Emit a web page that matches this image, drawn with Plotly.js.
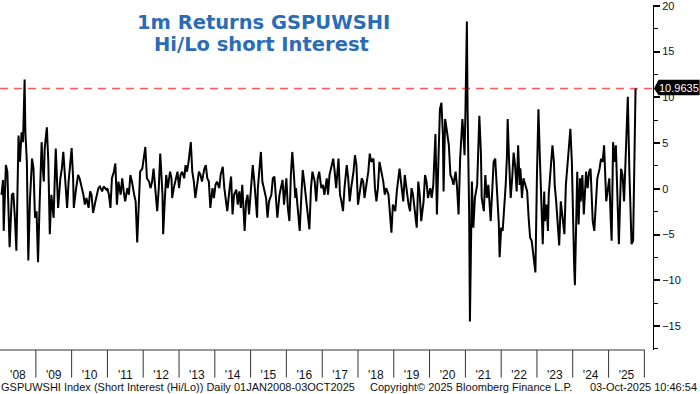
<!DOCTYPE html>
<html>
<head>
<meta charset="utf-8">
<script src="https://cdn.plot.ly/plotly-3.0.1.min.js"></script>
<style>html,body{margin:0;padding:0;background:#fff;}#chart{width:700px;height:394px;}</style>
</head>
<body>
<div id="chart"></div>
<script>
const dates = [
"2008-01-16","2008-02-01","2008-02-08","2008-03-01","2008-03-16","2008-04-08","2008-05-01","2008-05-16","2008-06-01","2008-06-16","2008-07-08","2008-07-23","2008-08-08","2008-08-23","2008-09-08","2008-09-16","2008-10-01","2008-10-16","2008-11-01","2008-11-23","2008-12-08","2008-12-23",
"2009-01-08","2009-01-23","2009-02-08","2009-02-23","2009-03-01","2009-03-08","2009-03-23","2009-04-01","2009-04-23","2009-05-08","2009-05-23","2009-06-08","2009-07-01","2009-07-16","2009-07-23","2009-08-08","2009-08-16","2009-09-08","2009-09-23","2009-10-08","2009-10-23","2009-11-16","2009-12-01","2009-12-16",
"2010-01-01","2010-01-16","2010-01-23","2010-02-16","2010-03-08","2010-03-23","2010-04-16","2010-05-01","2010-05-16","2010-06-01","2010-06-23","2010-07-08","2010-07-23","2010-08-08","2010-09-01","2010-09-16","2010-10-01","2010-10-16","2010-11-08","2010-11-23","2010-12-08","2010-12-23",
"2011-01-01","2011-01-16","2011-02-01","2011-02-16","2011-03-08","2011-03-23","2011-04-08","2011-04-23","2011-05-16","2011-06-01","2011-06-16","2011-07-01","2011-07-23","2011-08-08","2011-08-23","2011-09-08","2011-10-01","2011-10-16","2011-11-01","2011-11-16","2011-12-01","2011-12-23",
"2012-01-08","2012-01-23","2012-02-08","2012-03-01","2012-03-16","2012-04-01","2012-04-16","2012-05-08","2012-05-23","2012-06-08","2012-06-23","2012-07-16","2012-07-23","2012-08-08","2012-08-23","2012-09-08","2012-10-01","2012-10-16","2012-10-23","2012-11-08","2012-11-23","2012-12-16",
"2013-01-01","2013-01-16","2013-02-01","2013-02-23","2013-03-08","2013-03-23","2013-04-08","2013-05-01","2013-05-16","2013-06-01","2013-06-16","2013-07-08","2013-07-23","2013-08-08","2013-08-23","2013-09-16","2013-10-01","2013-10-16","2013-11-01","2013-11-16","2013-12-08","2013-12-23",
"2014-01-08","2014-01-23","2014-02-16","2014-03-01","2014-03-23","2014-04-08","2014-04-23","2014-05-08","2014-06-01","2014-06-16","2014-07-01","2014-07-16","2014-08-08","2014-08-23","2014-09-08","2014-09-23","2014-10-08","2014-11-01","2014-11-16","2014-12-01","2014-12-16",
"2015-01-08","2015-01-23","2015-02-08","2015-02-23","2015-03-08","2015-03-16","2015-04-01","2015-04-16","2015-05-01","2015-05-23","2015-06-08","2015-06-23","2015-07-08","2015-08-01","2015-08-16","2015-09-01","2015-09-16","2015-10-01","2015-10-23","2015-11-08","2015-11-23","2015-12-08",
"2016-01-01","2016-01-16","2016-02-01","2016-02-16","2016-03-01","2016-03-16","2016-04-01","2016-04-08","2016-04-23","2016-05-16","2016-06-01","2016-06-16","2016-07-01","2016-07-23","2016-08-08","2016-08-23","2016-09-08","2016-09-23","2016-10-16","2016-11-01","2016-11-16","2016-12-01","2016-12-23",
"2017-01-08","2017-01-23","2017-02-16","2017-03-01","2017-03-16","2017-04-08","2017-04-23","2017-05-08","2017-05-23","2017-06-16","2017-07-01","2017-07-16","2017-08-01","2017-08-16","2017-09-08","2017-09-23","2017-10-08","2017-10-23","2017-11-16","2017-12-01","2017-12-16",
"2018-01-01","2018-01-23","2018-02-08","2018-02-23","2018-03-08","2018-04-01","2018-04-16","2018-05-01","2018-05-16","2018-06-08","2018-06-23","2018-07-08","2018-07-23","2018-08-08","2018-09-01","2018-09-16","2018-10-01","2018-10-16","2018-11-08","2018-11-23","2018-12-08","2018-12-23",
"2019-01-16","2019-02-01","2019-02-16","2019-03-01","2019-03-23","2019-04-08","2019-04-23","2019-05-08","2019-06-01","2019-06-16","2019-07-01","2019-07-16","2019-08-01","2019-08-23","2019-09-08","2019-09-23","2019-10-08","2019-11-01","2019-11-16","2019-12-01","2019-12-16",
"2020-01-08","2020-01-23","2020-02-08","2020-03-01","2020-03-16","2020-04-01","2020-04-16","2020-05-01","2020-05-16","2020-05-23","2020-06-08","2020-06-23","2020-07-16","2020-08-01","2020-08-16","2020-09-01","2020-09-23","2020-10-08","2020-10-23","2020-11-08","2020-12-01","2020-12-08","2020-12-23",
"2021-01-01","2021-01-16","2021-01-23","2021-02-08","2021-02-16","2021-02-23","2021-03-08","2021-03-23","2021-04-08","2021-05-01","2021-05-16","2021-05-23","2021-06-08","2021-06-16","2021-07-08","2021-07-23","2021-08-08","2021-08-23","2021-09-16","2021-10-01","2021-10-16","2021-11-01","2021-11-23","2021-12-08","2021-12-16",
"2022-01-01","2022-01-16","2022-02-01","2022-02-16","2022-03-01","2022-03-08","2022-03-23","2022-04-08","2022-04-23","2022-05-08","2022-05-23","2022-06-08","2022-06-23","2022-07-08","2022-07-16","2022-08-01","2022-08-16","2022-09-08","2022-09-23","2022-10-08","2022-10-23","2022-11-08","2022-12-01","2022-12-16",
"2023-01-01","2023-01-08","2023-01-16","2023-02-01","2023-02-08","2023-02-23","2023-03-01","2023-03-16","2023-03-23","2023-04-08","2023-04-23","2023-05-01","2023-05-23","2023-06-08","2023-06-23","2023-07-01","2023-07-16","2023-08-01","2023-08-16","2023-09-01","2023-09-16","2023-10-08","2023-10-23","2023-11-08","2023-11-23","2023-12-08","2023-12-23",
"2024-01-08","2024-01-16","2024-01-23","2024-02-01","2024-02-16","2024-03-01","2024-03-16","2024-03-23","2024-04-08","2024-04-23","2024-05-16","2024-06-01","2024-06-16","2024-07-01","2024-07-23","2024-08-08","2024-08-23","2024-09-08","2024-10-01","2024-10-16","2024-11-01","2024-11-16","2024-12-08","2024-12-23",
"2025-01-08","2025-01-23","2025-02-01","2025-02-16","2025-03-01","2025-03-16","2025-04-01","2025-04-16","2025-05-08","2025-05-23","2025-06-08","2025-06-23","2025-07-16","2025-08-01","2025-08-16","2025-08-23","2025-09-08","2025-09-23","2025-10-03"
];
const values = [
-0.65,0.97,-4.6,2.6,1.87,-6.4,-0.65,-0.47,-3.17,-6.77,5.83,2.95,6.19,5.1,11.95,6.19,2.95,-7.85,-1.37,3.3,2.2,-3.17,
-2.45,-8.03,-1.73,2.2,5.1,2.95,0.79,4.39,6.73,2.95,-4.97,-0.65,-3.17,2.2,4.39,0.07,-2.09,1.15,2.2,4.03,1.15,-2.09,0.79,2.95,
4.46,1.15,-2.09,0.07,1.51,1.15,0.07,-0.65,-1.73,-1.01,-2.09,-0.29,-0.65,-2.63,-1.37,-0.65,0.07,0.25,-0.29,0.25,0.07,-0.1,
0.07,-0.65,-2.09,1.15,1.87,2.77,-1.73,0.79,-0.65,1.15,-0.29,-1.37,0.07,-0.65,1.51,0.79,-0.65,-1.37,-5.87,-2.45,1.87,2.2,
3.3,4.57,1.15,0.79,0.07,0.79,2.2,-0.65,-2.45,0.07,3.85,-0.65,-4.97,-1.37,1.51,0.07,1.87,1.15,-1.01,0.07,0.79,1.87,
0.07,1.51,1.87,1.15,2.59,1.87,2.95,5.1,1.87,0.79,-1.01,1.15,1.87,1.51,0.79,2.2,2.59,1.15,0.79,-2.09,0.07,-1.01,
0.43,0.79,0.07,1.51,2.41,0.07,-1.37,-2.45,0.07,1.33,-2.81,-0.65,-0.1,-1.73,-0.29,-2.09,0.43,-4.61,-1.37,-0.65,-2.81,
0.07,2.59,0.79,-1.73,-3.17,0.07,2.2,4.03,0.79,-0.29,-1.01,-3.17,-1.37,-0.65,1.15,1.33,-1.37,-3.17,-0.65,0.07,0.97,-1.73,
1.15,-2.09,-3.53,1.51,4.03,1.87,-1.01,0.07,-2.09,-4.61,-1.01,2.05,0.79,-1.37,-2.81,-4.43,0.07,1.87,0.79,-1.37,1.15,1.87,0.07,
0.43,-0.65,1.15,-0.65,1.51,2.59,3.3,1.87,0.07,3.3,-0.65,-1.37,-2.45,0.07,2.59,1.15,-1.37,0.07,1.87,3.67,2.59,
-1.73,0.07,1.15,0.79,-1.01,0.79,1.87,3.85,2.95,3.3,0.07,-1.37,0.07,2.95,1.51,0.79,-0.65,0.07,-0.65,-2.81,-4.79,-1.73,
-2.45,-0.29,0.79,2.2,0.07,-1.37,1.51,0.07,-1.73,-2.45,0.07,-0.65,-2.09,-4.25,0.79,-0.65,-3.53,-1.37,1.51,0.79,-1.01,
0.07,-1.0,0.43,6.0,-2.81,3.3,8.7,9.4,6.05,-0.3,7.63,6.55,4.75,1.51,1.15,0.43,1.87,0.07,-2.81,3.3,7.63,6.55,3.67,
8.35,18.3,8.7,-2.45,-14.5,-6.05,0.79,-4.25,-1.0,0.43,4.75,7.99,3.96,-1.0,-2.45,1.51,-1.0,0.43,-3.53,-0.29,2.95,3.3,-0.65,-3.89,-7.49,
-4.25,-4.61,-2.45,0.43,3.67,7.63,2.95,-1.0,1.15,3.96,2.52,-0.29,4.75,0.43,2.23,-1.0,1.15,0.07,-0.29,-3.17,-5.33,-5.69,-7.85,-9.15,
1.5,7.63,8.7,2.95,0.07,-3.89,-6.05,-0.29,-3.53,-1.73,-4.61,-0.65,2.2,4.75,2.95,0.43,-1.37,-4.61,-6.2,-1.37,-3.17,-4.97,0.43,2.95,4.75,6.55,2.95,
-6.4,-8.6,-10.55,-6.05,1.87,-3.89,1.15,-1.37,1.51,-2.81,1.87,0.07,1.87,2.2,-3.53,-4.61,-1.73,1.15,2.2,3.3,2.95,4.75,-1.37,0.07,
1.15,-3.53,-5.69,5.1,2.95,4.75,-1.37,-6.05,2.2,1.51,-1.37,2.59,10.07,1.87,-2.45,-6.05,-5.69,2.2,10.9635
];
const yearTickDates = ["2008-07-02","2009-07-02","2010-07-02","2011-07-02","2012-07-02","2013-07-02","2014-07-02","2015-07-02","2016-07-02","2017-07-02","2018-07-02","2019-07-02","2020-07-02","2021-07-02","2022-07-02","2023-07-02","2024-07-02","2025-07-02"];
const yearTickLabels = ["'08","'09","'10","'11","'12","'13","'14","'15","'16","'17","'18","'19","'20","'21","'22","'23","'24","'25"];
const yearBoundaries = ["2009-01-01","2010-01-01","2011-01-01","2012-01-01","2013-01-01","2014-01-01","2015-01-01","2016-01-01","2017-01-01","2018-01-01","2019-01-01","2020-01-01","2021-01-01","2022-01-01","2023-01-01","2024-01-01","2025-01-01","2026-01-01"];
const yTicks = [-15,-10,-5,0,5,10,15,20];
const yMinorTicks = [-17.5,-12.5,-7.5,-2.5,2.5,7.5,12.5,17.5];
const titleLines = ["1m Returns GSPUWSHI","Hi/Lo short Interest"];
const footerLeft = "GSPUWSHI Index (Short Interest (Hi/Lo)) Daily 01JAN2008-03OCT2025";
const footerMid = "Copyright\u00A9 2025 Bloomberg Finance L.P.";
const footerRight = "03-Oct-2025 10:46:54";

const last = values[values.length - 1];
const font = "Liberation Sans, Arial, sans-serif";

const shapes = [];
yearBoundaries.forEach(d => {
  shapes.push({type:'line', xref:'x', yref:'paper', x0:d, x1:d, y0:0, y1:-0.08, line:{color:'#333', width:1}});
});
shapes.push({type:'line', xref:'x', yref:'paper', x0:'2008-01-01', x1:'2026-01-01', y0:0, y1:0, line:{color:'#333', width:1}});
shapes.push({type:'line', xref:'paper', yref:'y', x0:0, x1:1, y0:last, y1:last, layer:'below', line:{color:'#ff5a5a', width:1.6, dash:'8px,6px'}});
shapes.push({type:'path', xref:'paper', yref:'y', layer:'above', fillcolor:'#000', line:{width:0},
  path:`M 1.0015 ${last} L 1.0085 ${last+0.95} L 1.0715 ${last+0.95} L 1.0715 ${last-0.72} L 1.0085 ${last-0.72} Z`});

const annotations = [
  {text:titleLines[0], xref:'paper', yref:'paper', x:0.404, y:0.948, xanchor:'center', yanchor:'middle', showarrow:false,
   font:{family:'DejaVu Sans, Verdana, sans-serif', size:19.5, color:'#2b6cb4', weight:'bold'}},
  {text:titleLines[1], xref:'paper', yref:'paper', x:0.401, y:0.885, xanchor:'center', yanchor:'middle', showarrow:false,
   font:{family:'DejaVu Sans, Verdana, sans-serif', size:19.5, color:'#2b6cb4', weight:'bold'}},
  {text:footerLeft, xref:'paper', yref:'paper', x:-0.002, y:-0.107, xanchor:'left', yanchor:'middle', showarrow:false, font:{family:font, size:11, color:'#111'}},
  {text:footerMid, xref:'paper', yref:'paper', x:0.564, y:-0.107, xanchor:'left', yanchor:'middle', showarrow:false, font:{family:font, size:11, color:'#111'}},
  {text:footerRight, xref:'paper', yref:'paper', x:0.9, y:-0.107, xanchor:'left', yanchor:'middle', showarrow:false, font:{family:font, size:11, color:'#111'}},
  {text:String(last), xref:'paper', yref:'y', x:1.0405, y:last + 0.1, xanchor:'center', yanchor:'middle', showarrow:false, font:{family:font, size:11, color:'#fff'}}
];

const trace = {x:dates, y:values, type:'scatter', mode:'lines', line:{color:'#000', width:2}, hoverinfo:'skip'};

const layout = {
  width:700, height:394,
  margin:{l:0, r:47, t:5, b:44, pad:0},
  paper_bgcolor:'#fff', plot_bgcolor:'#fff',
  showlegend:false,
  xaxis:{type:'date', range:['2008-01-01','2026-03-30'], showgrid:false, zeroline:false, showline:false,
    tickmode:'array', tickvals:yearTickDates, ticktext:yearTickLabels, ticks:'outside', ticklen:14, tickcolor:'rgba(0,0,0,0)',
    tickfont:{family:font, size:12, color:'#111'}},
  yaxis:{side:'right', range:[-17.63, 20.1], showgrid:false, zeroline:false, showline:true, linecolor:'#000', linewidth:1,
    tickmode:'array', tickvals:yTicks, ticks:'outside', ticklen:6, tickwidth:2, tickcolor:'#000', ticklabeloverflow:'allow',
    minor:{tickmode:'array', tickvals:yMinorTicks, ticks:'outside', ticklen:4, tickwidth:1, tickcolor:'#000'},
    tickfont:{family:font, size:11, color:'#111'}},
  shapes:shapes,
  annotations:annotations
};

Plotly.newPlot('chart', [trace], layout, {staticPlot:true, displayModeBar:false});
</script>
</body>
</html>
